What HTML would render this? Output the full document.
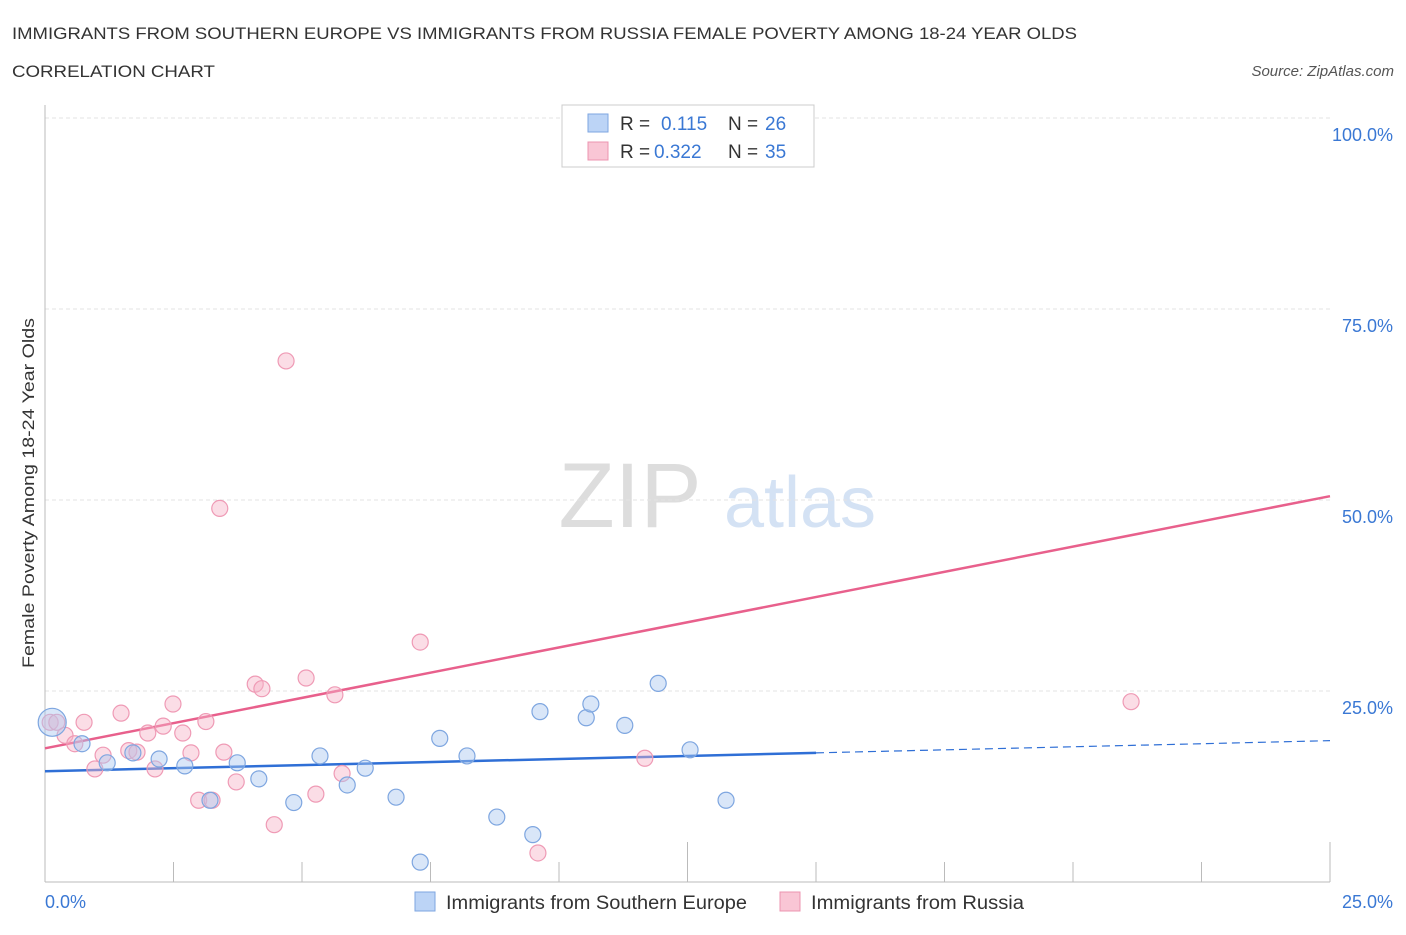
<!DOCTYPE html>
<html><head><meta charset="utf-8"><style>
body{margin:0;background:#fff;font-family:"Liberation Sans",sans-serif;}
svg text{font-family:"Liberation Sans",sans-serif;}
</style></head><body>
<svg id="chart" width="1406" height="930">
<text x="12" y="39" font-size="17" fill="#333" textLength="1065" lengthAdjust="spacingAndGlyphs">IMMIGRANTS FROM SOUTHERN EUROPE VS IMMIGRANTS FROM RUSSIA FEMALE POVERTY AMONG 18-24 YEAR OLDS</text>
<text x="12" y="77" font-size="17" fill="#333" textLength="203" lengthAdjust="spacingAndGlyphs">CORRELATION CHART</text>
<text x="1394" y="76" font-size="15" fill="#555" font-style="italic" text-anchor="end">Source: ZipAtlas.com</text>
<text x="630" y="527" font-size="92" fill="#ddd" font-family="Liberation Serif" text-anchor="middle">ZIP</text>
<text x="800" y="527" font-size="72" fill="#d4e2f4" text-anchor="middle">atlas</text>
<g id="grid"></g>
<g id="axes"></g>
<text transform="translate(34,493) rotate(-90)" font-size="17" fill="#333" text-anchor="middle" textLength="350" lengthAdjust="spacingAndGlyphs">Female Poverty Among 18-24 Year Olds</text>
<g id="lines"></g>
<g id="points"></g>
<g>
<rect x="562" y="105" width="252" height="62" fill="#fff" stroke="#ccc"/>
<rect x="588" y="114" width="20" height="18" fill="#bcd4f6" stroke="#7ea6e0"/>
<text x="620" y="130" font-size="19" fill="#333">R = </text><text x="661" y="130" font-size="19" fill="#3a78d4">0.115</text>
<text x="728" y="130" font-size="19" fill="#333">N = </text><text x="765" y="130" font-size="19" fill="#3a78d4">26</text>
<rect x="588" y="142" width="20" height="18" fill="#f9c6d5" stroke="#ec94b0"/>
<text x="620" y="158" font-size="19" fill="#333">R = </text><text x="654" y="158" font-size="19" fill="#3a78d4">0.322</text>
<text x="728" y="158" font-size="19" fill="#333">N = </text><text x="765" y="158" font-size="19" fill="#3a78d4">35</text>
</g>
<g>
<rect x="415" y="892" width="20" height="19" fill="#bcd4f6" stroke="#7ea6e0"/>
<text x="446" y="909" font-size="19" fill="#333" textLength="301" lengthAdjust="spacingAndGlyphs">Immigrants from Southern Europe</text>
<rect x="780" y="892" width="20" height="19" fill="#f9c6d5" stroke="#ec94b0"/>
<text x="811" y="909" font-size="19" fill="#333" textLength="213" lengthAdjust="spacingAndGlyphs">Immigrants from Russia</text>
</g>
</svg>
<script>
const blueX=[0.14,0.72,1.21,1.71,2.22,2.72,3.21,3.74,4.16,4.84,5.35,5.88,6.23,6.83,7.30,7.68,8.21,8.79,9.49,9.63,10.53,10.62,11.28,11.93,12.55,13.25];
const blueY=[20.9,18.1,15.6,16.9,16.1,15.2,10.7,15.6,13.5,10.4,16.5,12.7,14.9,11.1,2.6,18.8,16.5,8.5,6.2,22.3,21.5,23.3,20.5,26.0,17.3,10.7];
const pinkX=[0.10,0.23,0.39,0.58,0.76,0.97,1.13,1.48,1.63,1.79,2.00,2.14,2.30,2.49,2.68,2.84,2.99,3.13,3.25,3.40,3.48,3.72,4.09,4.22,4.46,4.69,5.08,5.27,5.64,5.78,7.30,9.59,11.67,21.13,13.75];
const pinkY=[20.9,20.9,19.2,18.1,20.9,14.8,16.6,22.1,17.2,17.0,19.5,14.8,20.4,23.3,19.5,16.9,10.7,21.0,10.7,48.9,17.0,13.1,25.9,25.3,7.5,68.2,26.7,11.5,24.5,14.2,31.4,3.8,16.2,23.6,100.0];
const yTicks=[25,50,75,100];
const yTickLabels=["25.0%","50.0%","75.0%","100.0%"];
const blueTrend=[14.5,18.5];
const pinkTrend=[17.5,50.5];
const blueSolidEnd=15;
const NS="http://www.w3.org/2000/svg";
const X=v=>45+v/25*1285, Y=v=>882-v*7.64;
function mk(tag,attrs,parent){const e=document.createElementNS(NS,tag);for(const k in attrs)e.setAttribute(k,attrs[k]);document.getElementById(parent).appendChild(e);return e;}
yTicks.forEach((t,i)=>{
 const g=mk('line',{x1:45,x2:1330,y1:Y(t),y2:Y(t),stroke:'#e3e3e3','stroke-dasharray':'4,3'},'grid');
 
 
 const l=mk('text',{x:1393,y:Y(t)+23,'font-size':18,fill:'#3a78d4','text-anchor':'end'},'grid');
 l.textContent=yTickLabels[i];
 
 
});
const ax=mk('line',{x1:45,x2:1330,y1:882,y2:882,stroke:'#bbb'},'axes');


const ay=mk('line',{x1:45,x2:45,y1:105,y2:882,stroke:'#bbb'},'axes');


for(let i=0;i<=10;i++){const xv=i*2.5;const t=mk('line',{x1:X(xv),x2:X(xv),y1:i%5==0?842:862,y2:882,stroke:'#bbb'},'axes');
 
 }
const xl0=mk('text',{x:45,y:908,'font-size':18,fill:'#3a78d4'},'axes');xl0.textContent='0.0%';


const xl1=mk('text',{x:1393,y:908,'font-size':18,fill:'#3a78d4','text-anchor':'end'},'axes');xl1.textContent='25.0%';


const bAt=v=>blueTrend[0]+(blueTrend[1]-blueTrend[0])*v/25;
let e=mk('line',{x1:X(0),y1:Y(blueTrend[0]),x2:X(blueSolidEnd),y2:Y(bAt(blueSolidEnd)),stroke:'#2f6fd6','stroke-width':2.5},'lines');


e=mk('line',{x1:X(blueSolidEnd),y1:Y(bAt(blueSolidEnd)),x2:X(25),y2:Y(blueTrend[1]),stroke:'#2f6fd6','stroke-width':1.2,'stroke-dasharray':'8,5'},'lines');


e=mk('line',{x1:X(0),y1:Y(pinkTrend[0]),x2:X(25),y2:Y(pinkTrend[1]),stroke:'#e8608c','stroke-width':2.5},'lines');


pinkX.forEach((x,i)=>{const c=mk('circle',{cx:X(x),cy:Y(pinkY[i]),r:8,fill:'rgba(246,180,200,0.45)',stroke:'#ef9ab5','stroke-width':1.2},'points');
 
 });
blueX.forEach((x,i)=>{const c=mk('circle',{cx:X(x),cy:Y(blueY[i]),r:i==0?14:8,fill:'rgba(170,200,240,0.45)',stroke:'#7ea6e0','stroke-width':1.2},'points');
 
 });
</script>
</body></html>
